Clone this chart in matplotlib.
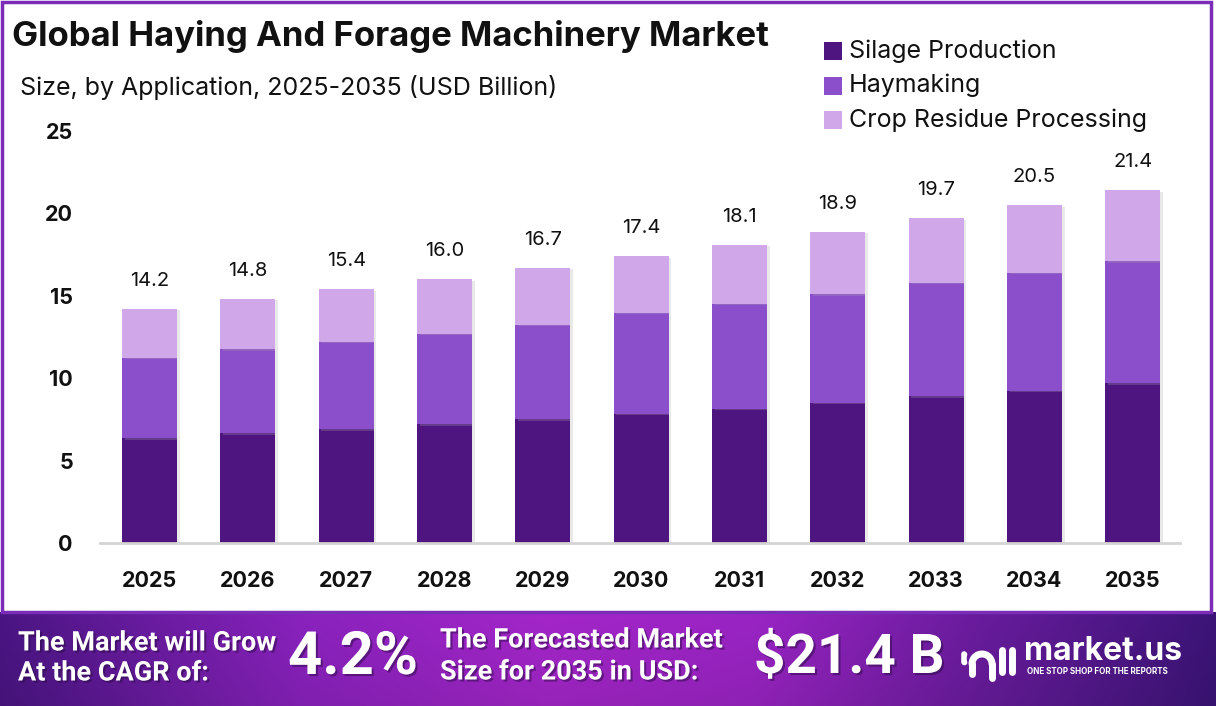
import numpy as np
import matplotlib
matplotlib.use("Agg")
import matplotlib.pyplot as plt
from matplotlib.patches import Rectangle
import matplotlib.patheffects as pe

years = ["2025", "2026", "2027", "2028", "2029", "2030", "2031", "2032", "2033", "2034", "2035"]
silage = [6.35, 6.65, 6.9, 7.2, 7.5, 7.85, 8.15, 8.5, 8.9, 9.25, 9.7]
haymaking = [4.9, 5.1, 5.3, 5.5, 5.75, 6.1, 6.35, 6.6, 6.9, 7.15, 7.4]
residue = [2.95, 3.05, 3.2, 3.3, 3.45, 3.45, 3.6, 3.8, 3.9, 4.1, 4.3]
totals = [14.2, 14.8, 15.4, 16.0, 16.7, 17.4, 18.1, 18.9, 19.7, 20.5, 21.4]
series_names = ["Silage Production", "Haymaking", "Crop Residue Processing"]
colors = ["#4E1580", "#8B4FCB", "#D0A8EA"]
yticks = [0, 5, 10, 15, 20, 25]

title = "Global Haying And Forage Machinery Market"
subtitle = "Size, by Application, 2025-2035 (USD Billion)"
cagr = "4.2%"
forecast = "$21.4 B"

W, H = 1216, 706
FONT = "Inter"
plt.rcParams['font.family'] = [FONT, 'DejaVu Sans']

fig = plt.figure(figsize=(W / 100, H / 100), dpi=100)
fig.patch.set_facecolor("white")

def fx(px):
    return px / W

def fy(py):
    return 1 - py / H

ax = fig.add_axes([fx(100), fy(543), fx(1180) - fx(100), fy(131) - fy(543)])
x = np.arange(len(years))
bw = 0.56
shadow = [pe.SimplePatchShadow(offset=(2, -1), shadow_rgbFace="#aaaaaa", alpha=0.25), pe.Normal()]
b1 = ax.bar(x, silage, width=bw, color=colors[0], zorder=3)
bottom2 = np.array(silage)
b2 = ax.bar(x, haymaking, width=bw, bottom=bottom2, color=colors[1], zorder=3)
bottom3 = bottom2 + np.array(haymaking)
b3 = ax.bar(x, residue, width=bw, bottom=bottom3, color=colors[2], zorder=3)
for cont in (b1, b2, b3):
    for p in cont:
        p.set_path_effects(shadow)

for xi, t in zip(x, totals):
    ax.text(xi, t + 1.15, f"{t:.1f}", ha="center", va="bottom", fontsize=14.5,
            color="#111111", clip_on=False)

ax.set_xlim(-0.503, 10.48)
ax.set_ylim(0, 25)
ax.set_yticks(yticks)
ax.set_yticklabels([str(v) for v in yticks], fontsize=15.5, fontweight="bold", color="#111111")
ax.set_xticks(x)
ax.set_xticklabels(years, fontsize=15.5, fontweight="bold", color="#111111")
ax.tick_params(axis="both", length=0)
ax.tick_params(axis="x", pad=20.5)
ax.tick_params(axis="y", pad=19.5)
for s in ("top", "right", "left"):
    ax.spines[s].set_visible(False)
ax.spines["bottom"].set_color("#d4d4d4")
ax.spines["bottom"].set_linewidth(2)
ax.spines["bottom"].set_zorder(4)
ax.set_facecolor("none")

# Titles
fig.text(fx(12), fy(46), title, fontsize=25, fontweight="bold", color="#111111", va="baseline", ha="left")
fig.text(fx(20), fy(95), subtitle, fontsize=18, color="#111111", va="baseline", ha="left")

# Legend
for i, (lab, col) in enumerate(zip(series_names, colors)):
    yc = 51 + 34.5 * i
    fig.patches.append(Rectangle((fx(824), fy(yc + 9)), fx(18), 18 / H, transform=fig.transFigure,
                                 facecolor=col, edgecolor="none"))
    fig.text(fx(849), fy(yc), lab, fontsize=18, color="#111111", va="center", ha="left")

# Frame
fig.patches.append(Rectangle((fx(1.5), fy(612)), fx(1209), (612 - 1.5) / H, transform=fig.transFigure,
                             facecolor="none", edgecolor="#7B2DB8", linewidth=2.5, zorder=10))

# Banner with gradient
bax = fig.add_axes([0, 0, 1, 94 / H])
bax.set_axis_off()
xs = np.linspace(0, 1, 600)
stops_x = [0.0, 0.25, 0.45, 0.62, 0.8, 1.0]
stops_c = [np.array(matplotlib.colors.to_rgb(c)) for c in
           ["#4A1583", "#8A22BE", "#A426C9", "#9A24C4", "#6A1C9E", "#3C1478"]]
grad = np.zeros((40, 600, 3))
for k in range(3):
    row = np.interp(xs, stops_x, [c[k] for c in stops_c])
    vert = np.linspace(0.92, 1.0, 40)[:, None]
    grad[:, :, k] = row[None, :] * vert
bax.imshow(grad, aspect="auto", extent=[0, 1, 0, 1], origin="lower")
bax.set_xlim(0, 1)
bax.set_ylim(0, 1)

BF = ['Liberation Sans Narrow', 'Roboto', 'DejaVu Sans']
def btxt(px, py, s, size, ha="left"):
    fig.text(fx(px), fy(py), s, fontsize=size, fontweight="bold", color="white", va="center", ha=ha,
             family=BF, path_effects=[pe.withSimplePatchShadow(offset=(1.5, -1.5), shadow_rgbFace="#2a0a45", alpha=0.5)])

btxt(18, 643, "The Market will Grow", 19.5)
btxt(18, 673, "At the CAGR of:", 19.5)
btxt(288, 658, cagr, 43)
btxt(440, 640, "The Forecasted Market", 19.5)
btxt(440, 672, "Size for 2035 in USD:", 19.5)
btxt(754, 658, forecast, 39.5)

# Logo
lax = fig.add_axes([fx(960), fy(686), fx(58), 50 / H])
lax.set_axis_off()
lax.set_xlim(0, 58)
lax.set_ylim(0, 50)
t = np.linspace(np.pi, 2 * np.pi, 50)
lax.plot(22 + 10 * np.cos(t), 22 - 10 * np.sin(t), color="white", lw=5, solid_capstyle="round")
lax.plot([12, 12], [22, 12], color="white", lw=5, solid_capstyle="round")
lax.plot([32, 32], [22, 8], color="white", lw=5, solid_capstyle="round")
lax.plot([42, 42], [36, 14], color="white", lw=5, solid_capstyle="round")
lax.plot([52, 52], [36, 14], color="white", lw=5, solid_capstyle="round")
lax.plot([4, 4], [32, 24], color="white", lw=4, solid_capstyle="round", marker="o", ms=3)
fig.text(fx(1024), fy(652), "market.us", fontsize=23, fontweight="bold", color="white", va="center", ha="left", family=["Inter", "DejaVu Sans"])
fig.text(fx(1027), fy(672), "ONE STOP SHOP FOR THE REPORTS", fontsize=5.8, fontweight="bold", color="white", va="center", ha="left", family=["Inter", "DejaVu Sans"])

fig.savefig("out.png", dpi=100, facecolor="white")
